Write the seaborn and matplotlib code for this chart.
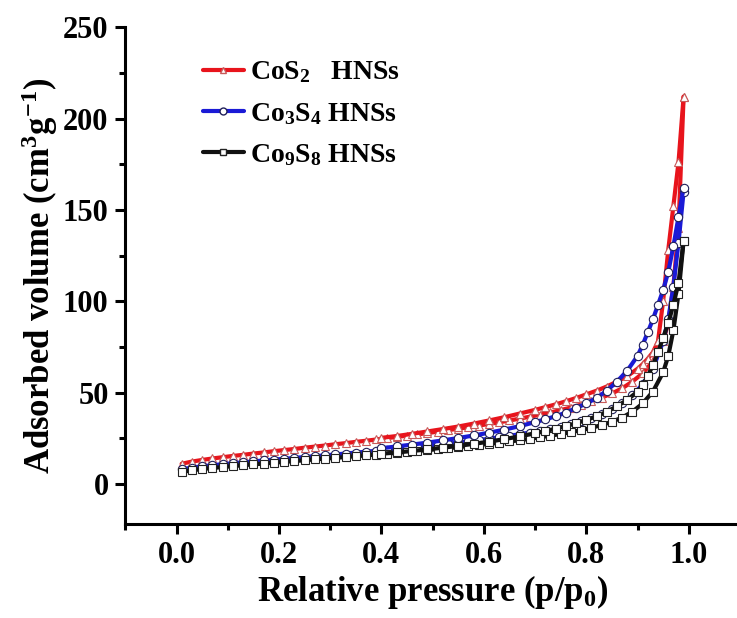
import matplotlib
matplotlib.use("Agg")
import matplotlib.pyplot as plt
from matplotlib.lines import Line2D
from matplotlib.ticker import MultipleLocator
import seaborn as sns
import pandas as pd

# Relative pressure grids (adsorption goes up, desorption comes back down)
p_ads = [0.01, 0.03, 0.05, 0.07, 0.09, 0.11, 0.13, 0.15, 0.17, 0.19,
         0.21, 0.23, 0.25, 0.27, 0.29, 0.31, 0.33, 0.35, 0.37, 0.39,
         0.41, 0.43, 0.45, 0.47, 0.49, 0.51, 0.53, 0.55, 0.57, 0.59,
         0.61, 0.63, 0.65, 0.67, 0.69, 0.71, 0.73, 0.75, 0.77, 0.79,
         0.81, 0.83, 0.85, 0.87, 0.89, 0.91, 0.93, 0.95, 0.96, 0.97,
         0.98, 0.99]
p_des = [0.99, 0.98, 0.97, 0.96, 0.95, 0.94, 0.93, 0.92, 0.91, 0.90,
         0.88, 0.86, 0.84, 0.82, 0.80, 0.78, 0.76, 0.74, 0.72, 0.70,
         0.67, 0.64, 0.61, 0.58, 0.55, 0.52, 0.49, 0.46, 0.43, 0.40]

# Adsorbed volume, cm3 g-1
cos2_ads = [11.0, 12.2, 13.1, 13.9, 14.6, 15.3, 15.9, 16.6, 17.2, 17.9,
            18.5, 19.1, 19.8, 20.4, 21.0, 21.7, 22.3, 23.0, 23.6, 24.3,
            25.0, 25.7, 26.4, 27.1, 27.8, 28.6, 29.4, 30.2, 31.0, 31.9,
            32.8, 33.7, 34.7, 35.7, 36.8, 37.9, 39.1, 40.4, 41.8, 43.4,
            45.2, 47.2, 49.5, 52.3, 56.0, 60.5, 67.0, 78.0, 88.0, 108.0,
            140.0, 212.0]
cos2_des = [212, 176, 152, 128, 100, 78, 72, 68.5, 65.5, 63,
            59, 56, 53.3, 51, 49, 47, 45.2, 43.5, 42, 40.5,
            38.5, 36.5, 34.7, 33, 31.4, 30, 28.7, 27.4, 26.2, 25.2]

co3s4_ads = [8.0, 8.9, 9.6, 10.2, 10.8, 11.3, 11.8, 12.3, 12.8, 13.3,
             13.7, 14.2, 14.7, 15.2, 15.6, 16.1, 16.6, 17.1, 17.6, 18.1,
             18.6, 19.1, 19.7, 20.2, 20.8, 21.4, 22.0, 22.6, 23.3, 24.0,
             24.7, 25.5, 26.3, 27.2, 28.1, 29.1, 30.2, 31.4, 32.7, 34.2,
             36.0, 38.2, 40.8, 44.0, 48.5, 54.5, 63.0, 78.0, 90.0, 108.0,
             132.0, 160.0]
co3s4_des = [162, 146, 130, 116, 106, 98, 90, 83, 76, 70,
             62, 56, 51, 47, 44, 41.5, 39, 37, 35.3, 33.8,
             31.6, 29.7, 28, 26.5, 25.1, 23.8, 22.6, 21.5, 20.5, 19.5]

co9s8_ads = [6.5, 7.4, 8.1, 8.7, 9.2, 9.7, 10.2, 10.7, 11.1, 11.6,
             12.0, 12.5, 12.9, 13.4, 13.8, 14.2, 14.7, 15.1, 15.6, 16.0,
             16.5, 17.0, 17.5, 18.0, 18.5, 19.0, 19.5, 20.1, 20.7, 21.3,
             21.9, 22.5, 23.2, 23.9, 24.7, 25.5, 26.4, 27.3, 28.3, 29.4,
             30.7, 32.2, 34.0, 36.3, 39.5, 44.0, 50.5, 61.0, 70.0, 84.0,
             104.0, 133.0]
co9s8_des = [133, 110, 98, 88, 80, 72, 65, 59, 54, 50.5,
             46, 42.5, 39.5, 37, 35, 33.2, 31.6, 30.2, 28.9, 27.7,
             26, 24.5, 23.1, 21.9, 20.8, 19.8, 18.9, 18, 17.2, 16.5]

samples = ["CoS$_2$   HNSs", "Co$_3$S$_4$ HNSs", "Co$_9$S$_8$ HNSs"]
ads_sets = [cos2_ads, co3s4_ads, co9s8_ads]
des_sets = [cos2_des, co3s4_des, co9s8_des]
colors = ["#e8141c", "#1a1ad6", "#111111"]
edge_colors = ["#c85a5a", "#20205a", "#222222"]
markers = ["^", "o", "s"]

sns.set_theme(style="ticks")
plt.rcParams["font.family"] = ["Liberation Serif", "DejaVu Serif"]
plt.rcParams["font.weight"] = "bold"
plt.rcParams["text.color"] = "black"
plt.rcParams["axes.labelcolor"] = "black"
plt.rcParams["xtick.color"] = "black"
plt.rcParams["ytick.color"] = "black"
plt.rcParams["mathtext.fontset"] = "custom"
plt.rcParams["mathtext.rm"] = "Liberation Serif:bold"
plt.rcParams["mathtext.it"] = "Liberation Serif:bold"
plt.rcParams["mathtext.bf"] = "Liberation Serif:bold"
plt.rcParams["mathtext.default"] = "rm"

fig = plt.figure(figsize=(7.37, 6.18), dpi=100)
ax = fig.add_axes([0.170, 0.152, 0.834, 0.804])

for name, ads, des, c, ec, m in zip(samples, ads_sets, des_sets, colors, edge_colors, markers):
    df = pd.concat([
        pd.DataFrame({"p": p_ads, "V": ads, "branch": "ads"}),
        pd.DataFrame({"p": p_des, "V": des, "branch": "des"}),
    ])
    for br, sub in df.groupby("branch"):
        sns.lineplot(data=sub, x="p", y="V", ax=ax, sort=False, color=c,
                     lw=3.0, marker=m, markersize=6.0, markerfacecolor="white",
                     markeredgecolor=ec, markeredgewidth=0.8, legend=False,
                     estimator=None)

ax.set_xlim(-0.1, 1.1)
ax.set_ylim(-22, 250)
ax.xaxis.set_minor_locator(MultipleLocator(0.1))
ax.yaxis.set_major_locator(MultipleLocator(50))
ax.yaxis.set_minor_locator(MultipleLocator(25))
ax.set_xticks([0.0, 0.2, 0.4, 0.6, 0.8, 1.0])
ax.set_xticklabels(["0.0", "0.2", "0.4", "0.6", "0.8", "1.0"])

for s in ["top", "right"]:
    ax.spines[s].set_visible(False)
for s in ["left", "bottom"]:
    ax.spines[s].set_linewidth(2.2)
    ax.spines[s].set_color("black")

ax.tick_params(which="major", direction="out", length=7, width=2.2,
               labelsize=22, colors="black", pad=5)
ax.tick_params(which="minor", direction="out", length=4.5, width=2.2)
for lbl in ax.get_xticklabels() + ax.get_yticklabels():
    lbl.set_fontweight("bold")

ax.set_xlabel("Relative pressure (p/p$_0$)", fontsize=25, fontweight="bold", labelpad=2)
ax.set_ylabel("Adsorbed volume (cm$^3$g$^{-1}$)", fontsize=25, fontweight="bold", labelpad=2)

handles = [Line2D([0, 0.5, 1], [0, 0, 0], color=c, lw=3, marker=m, markersize=5,
                  markerfacecolor="white", markeredgecolor=ec, markevery=[1])
           for c, ec, m in zip(colors, edge_colors, markers)]
leg = ax.legend(handles, samples, loc="upper left", bbox_to_anchor=(0.085, 0.985),
                frameon=False, fontsize=20, handlelength=1.5, handletextpad=0.2,
                labelspacing=0.55)
for t in leg.get_texts():
    t.set_fontweight("bold")

fig.savefig("out.png", dpi=100)
